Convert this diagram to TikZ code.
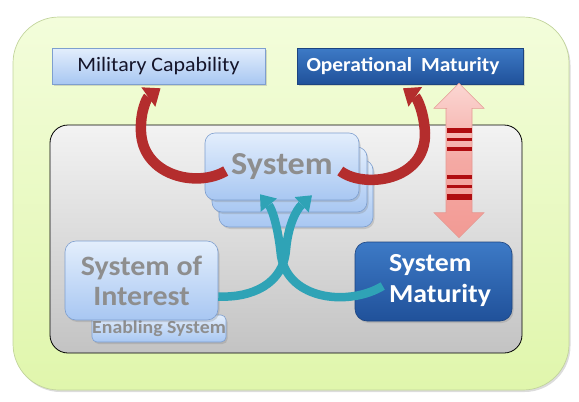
\documentclass[tikz,border=0pt]{standalone}
\usepackage{fontspec}
\setmainfont{Carlito}[FakeStretch=1.07]
\usetikzlibrary{arrows.meta,shadows,calc}
\definecolor{greenA}{HTML}{F3FDDB}
\definecolor{greenB}{HTML}{E0F6AC}
\definecolor{greenEdge}{HTML}{C2D49C}
\definecolor{grayA}{HTML}{F3F3F3}
\definecolor{grayB}{HTML}{C3C3C3}
\definecolor{ltblueA}{HTML}{E3EEFC}
\definecolor{ltblueB}{HTML}{A8C7F2}
\definecolor{ltblueEdge}{HTML}{7E9FCF}
\definecolor{dkblueA}{HTML}{3D7AC6}
\definecolor{dkblueB}{HTML}{20519A}
\definecolor{dkblueEdge}{HTML}{1C4480}
\definecolor{arrowred}{HTML}{B42D2D}
\definecolor{tealarrow}{HTML}{2FA3B6}
\definecolor{pinkA}{HTML}{FBD6D2}
\definecolor{pinkB}{HTML}{F29A94}
\definecolor{pinkEdge}{HTML}{E49A94}
\definecolor{stripe}{HTML}{B00D10}
\definecolor{sysgray}{HTML}{8E8E8E}
\definecolor{captext}{HTML}{15152A}
\begin{document}
\begin{tikzpicture}[x=1pt,y=-1pt,
  shadowed/.style={drop shadow={opacity=0.28,shadow xshift=1.5pt,shadow yshift=-2pt}},
  ltbox/.style={draw=ltblueEdge,line width=0.6pt,top color=ltblueA,bottom color=ltblueB,inner sep=0pt,shadowed},
  dkbox/.style={draw=dkblueEdge,line width=0.6pt,top color=dkblueA,bottom color=dkblueB,inner sep=0pt,shadowed,text=white},
  redarr/.style={draw=arrowred,line width=10.5pt,-{Triangle[width=24pt,length=15pt,line width=0pt]}},
  tealarr/.style={draw=tealarrow,line width=8.5pt,-{Triangle[width=21pt,length=14pt,line width=0pt]}},
  graytext/.style={text=sysgray,font=\bfseries\fontsize{#1}{#1}\selectfont},
  stripebar/.style={fill=stripe,draw=none}
]
\useasboundingbox (0,0) rectangle (579,402);
% frames
\node[draw=greenEdge,line width=0.7pt,top color=greenA,bottom color=greenB,rounded corners=46pt,
  minimum width=556pt,minimum height=373pt,inner sep=0pt,shadowed] (outer) at (291,203.5) {};
\node[draw=black,line width=0.8pt,top color=grayA,bottom color=grayB,rounded corners=18pt,
  minimum width=472pt,minimum height=228pt,inner sep=0pt] (inner) at (286,239) {};
% top boxes
\node[ltbox,minimum width=213pt,minimum height=36pt,text=captext,
  font=\fontsize{20.5}{24}\selectfont] (mc) at (158.5,66) {Military Capability};
\node[dkbox,minimum width=226pt,minimum height=36pt,
  font=\bfseries\fontsize{20}{24}\selectfont] (om) at (410,66) {};
\node[text=white,font=\bfseries\fontsize{20}{24}\selectfont,inner sep=0pt] (omt) at (403,66) {Operational\hspace{0.45em}Maturity};
% system stack
\node[ltbox,rounded corners=10pt,minimum width=154pt,minimum height=67pt] (sys3) at (296,193.5) {};
\node[ltbox,rounded corners=10pt,minimum width=155pt,minimum height=65pt] (sys2) at (289.5,179.5) {};
\node[ltbox,rounded corners=10pt,minimum width=154pt,minimum height=67pt,graytext=32] (sys) at (282,166.5) {System};
% system of interest
\node[ltbox,rounded corners=5pt,minimum width=134pt,minimum height=27pt,graytext=18.5] (es) at (159,328.5) {Enabling System};
\node[ltbox,rounded corners=11pt,minimum width=153pt,minimum height=79pt,align=center,graytext=28] (soi) at (141.5,280.5) {System of\\[2pt]Interest};
% system maturity
\node[dkbox,rounded corners=12pt,minimum width=157pt,minimum height=79pt] (smat) at (433.5,281.5) {};
\node[text=white,align=left,inner sep=0pt,font=\bfseries\fontsize{26}{31}\selectfont] (smt) at (440,281) {System\\Maturity};
% double arrow
\coordinate (dtop) at ($(om.south)+(49,-1)$);
\coordinate (dbot) at ($(smat.north)+(25.5,-4)$);
\path[draw=pinkEdge,line width=0.6pt,top color=pinkA,bottom color=pinkB,middle color=pinkB!75!pinkA]
  (dtop) -- ++(25,25) -- ++(-12,0) |- ($(dbot)+(13,-25)$) -- ++(12,0) -- (dbot)
  -- ++(-25,-25) -- ++(12,0) |- ($(dtop)+(-12,25)$) -- ++(-13,0) -- cycle;
\foreach \ya/\yb in {128/133,137.5/140.5,147/151,174.5/178.5,184.5/188,194/199.5}
  \fill[stripe] (447,\ya) rectangle (472,\yb);
% red arrows
\draw[redarr] ($(sys.west)+(21,4.5)$) .. controls (197,188) and (143,176) .. (141,132)
  .. controls (140,111) and (147,98) .. ($(mc.south)+(2,4)$);
\draw[redarr] ($(sys.east)+(-19,4.5)$) .. controls (364,189) and (426,181) .. (425,133)
  .. controls (424,112) and (417,98) .. ($(om.south)+(-7,4)$);
% teal arrows
\draw[tealarr] ($(soi.east)+(0,16)$) .. controls (252,298) and (283,284) .. (286,250)
  .. controls (288,226) and (296,210) .. ($(sys.south)+(30,-5)$);
\draw[tealarr] ($(smat.west)+(28,4.5)$) .. controls (350,306) and (289,301) .. (281,256)
  .. controls (278,226) and (272,209) .. ($(sys.south)+(-22,-6)$);
\end{tikzpicture}
\end{document}
